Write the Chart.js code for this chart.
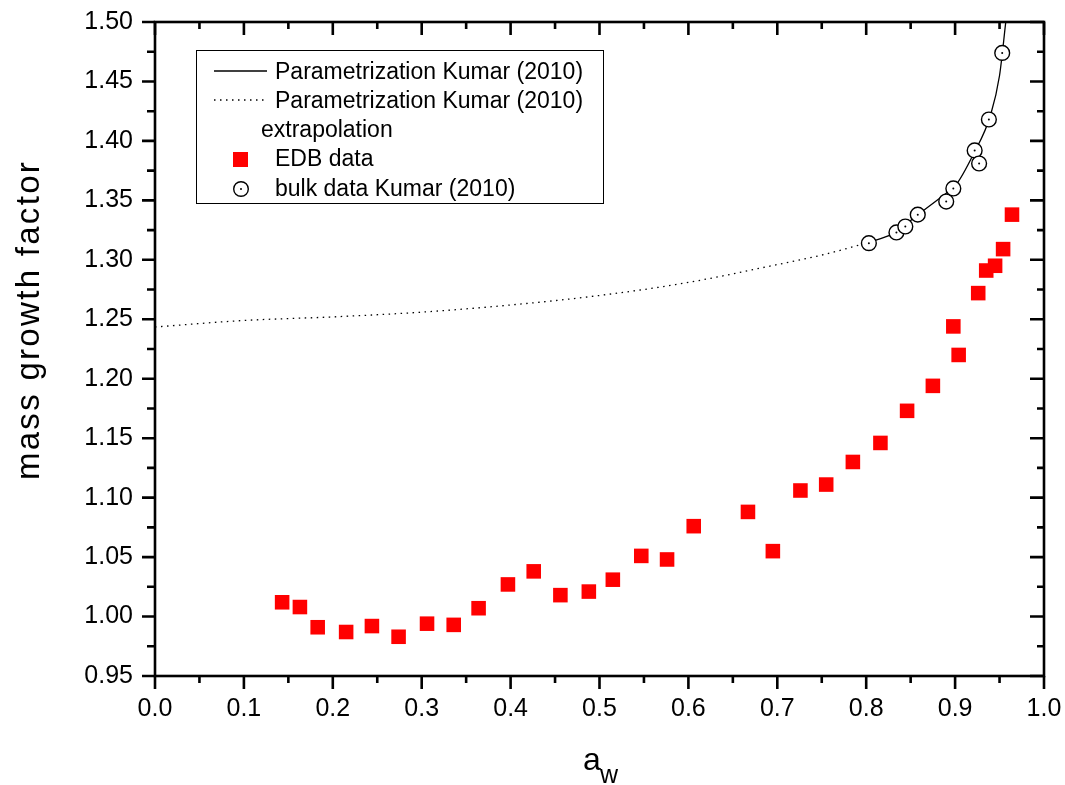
<!DOCTYPE html>
<html>
<head>
<meta charset="utf-8">
<title>mass growth factor</title>
<script src="https://cdn.jsdelivr.net/npm/chart.js@4/dist/chart.umd.min.js"></script>
<style>
    html, body { margin: 0; padding: 0; background: #fff; }
    #wrap { width: 1065px; height: 785px; }
</style>
</head>
<body>
<div id="wrap"><canvas id="growthChart" width="1065" height="785"></canvas></div>
<script>
// EDB measurements
const edbAw = [0.143, 0.163, 0.183, 0.215, 0.244, 0.274, 0.306, 0.336, 0.364, 0.397, 0.426,
               0.456, 0.488, 0.515, 0.547, 0.576, 0.606, 0.667, 0.695, 0.726, 0.755, 0.785,
               0.816, 0.846, 0.875, 0.904, 0.898, 0.926, 0.935, 0.945, 0.954, 0.964];
const edbGf = [1.012, 1.008, 0.991, 0.987, 0.992, 0.983, 0.994, 0.993, 1.007, 1.027, 1.038,
               1.018, 1.021, 1.031, 1.051, 1.048, 1.076, 1.088, 1.055, 1.106, 1.111, 1.130,
               1.146, 1.173, 1.194, 1.220, 1.244, 1.272, 1.291, 1.295, 1.309, 1.338];

// bulk data Kumar (2010)
const bulkAw = [0.803, 0.834, 0.844, 0.858, 0.890, 0.898, 0.922, 0.927, 0.938, 0.953];
const bulkGf = [1.314, 1.323, 1.328, 1.338, 1.349, 1.360, 1.392, 1.381, 1.418, 1.474];

// parametrization (solid) and its extrapolation (dotted)
const paramAw = [0.80, 0.83, 0.86, 0.89, 0.90, 0.92, 0.94, 0.95, 0.957];
const paramGf = [1.314, 1.322, 1.339, 1.356, 1.362, 1.388, 1.422, 1.455, 1.50];
const extrapAw = [0.0, 0.1, 0.2, 0.3, 0.4, 0.5, 0.6, 0.7, 0.75, 0.8];
const extrapGf = [1.2435, 1.249, 1.252, 1.256, 1.262, 1.270, 1.281, 1.296, 1.304, 1.314];

const xTicks = [0.0, 0.1, 0.2, 0.3, 0.4, 0.5, 0.6, 0.7, 0.8, 0.9, 1.0];
const yTicks = [0.95, 1.00, 1.05, 1.10, 1.15, 1.20, 1.25, 1.30, 1.35, 1.40, 1.45, 1.50];

const legendLabels = ['Parametrization Kumar (2010)', 'Parametrization Kumar (2010)', 'extrapolation',
                      'EDB data', 'bulk data Kumar (2010)'];
const yTitle = 'mass growth factor';

const FONT = '"Liberation Sans", Arial, Helvetica, sans-serif';

document.addEventListener('DOMContentLoaded', function() {
    const ctx = document.getElementById('growthChart').getContext('2d');

    const toPoints = (xs, ys) => xs.map((x, i) => ({ x: x, y: ys[i] }));

    const tickPick = list => function(scale) {
        scale.ticks = list.map(v => ({ value: v }));
    };

    // keep chart area exactly where the layout padding puts it
    function noScalePadding(scale) {
        scale.paddingTop = 0;
        scale.paddingBottom = 0;
        scale.paddingLeft = 0;
        scale.paddingRight = 0;
    }

    function dot(c, x, y) {
        c.beginPath();
        c.arc(x, y, 1, 0, Math.PI * 2);
        c.fill();
    }

    // centre dots of the open circles
    const centreDotPlugin = {
        id: 'centreDots',
        afterDatasetsDraw(chart) {
            const meta = chart.getDatasetMeta(0);
            const c = chart.ctx;
            c.save();
            c.fillStyle = '#000';
            meta.data.forEach(pt => dot(c, pt.x, pt.y));
            c.restore();
        }
    };

    // frame, inward/outward ticks, legend and axis titles
    const decorPlugin = {
        id: 'decor',
        afterDraw(chart) {
            const c = chart.ctx;
            const a = chart.chartArea;
            const xs = chart.scales.x;
            const ys = chart.scales.y;
            c.save();
            c.strokeStyle = '#000';
            c.lineWidth = 2.6;
            c.lineCap = 'butt';
            c.strokeRect(a.left, a.top, a.right - a.left, a.bottom - a.top);

            const xMinor = xTicks.slice(1).map((v, i) => (v + xTicks[i]) / 2);
            const yMinor = yTicks.slice(1).map((v, i) => (v + yTicks[i]) / 2);

            c.beginPath();
            xTicks.forEach(v => {
                const px = xs.getPixelForValue(v);
                c.moveTo(px, a.bottom); c.lineTo(px, a.bottom + 13);
                c.moveTo(px, a.top); c.lineTo(px, a.top + 13);
            });
            xMinor.forEach(v => {
                const px = xs.getPixelForValue(v);
                c.moveTo(px, a.bottom); c.lineTo(px, a.bottom + 7);
                c.moveTo(px, a.top); c.lineTo(px, a.top + 7);
            });
            yTicks.forEach(v => {
                const py = ys.getPixelForValue(v);
                c.moveTo(a.left - 13, py); c.lineTo(a.left, py);
                c.moveTo(a.right - 14, py); c.lineTo(a.right, py);
            });
            yMinor.forEach(v => {
                const py = ys.getPixelForValue(v);
                c.moveTo(a.left - 8, py); c.lineTo(a.left, py);
                c.moveTo(a.right - 7, py); c.lineTo(a.right, py);
            });
            c.stroke();

            c.fillStyle = '#000';

            // y axis title
            c.save();
            c.translate(30, 320);
            c.rotate(-Math.PI / 2);
            c.font = '33px ' + FONT;
            c.letterSpacing = '2.3px';
            c.textAlign = 'center';
            c.textBaseline = 'middle';
            c.fillText(yTitle, 0, 0);
            c.restore();

            // x axis title: a with subscript w
            c.textBaseline = 'alphabetic';
            c.textAlign = 'left';
            c.font = '32px ' + FONT;
            c.fillText('a', 583, 770);
            c.font = '25px ' + FONT;
            c.fillText('w', 600, 783);

            // legend
            c.lineWidth = 1;
            c.strokeStyle = '#000';
            c.strokeRect(196.5, 50.5, 407, 153);
            c.font = '23px ' + FONT;

            c.lineWidth = 1.3;
            c.beginPath();
            c.moveTo(214, 71); c.lineTo(267, 71);
            c.stroke();
            c.fillText(legendLabels[0], 275, 79);

            c.setLineDash([1.5, 4.5]);
            c.beginPath();
            c.moveTo(214, 100); c.lineTo(267, 100);
            c.stroke();
            c.setLineDash([]);
            c.fillText(legendLabels[1], 275, 108);
            c.fillText(legendLabels[2], 261, 137);

            c.fillStyle = '#ff0000';
            c.fillRect(233, 152, 15, 15);
            c.fillStyle = '#000';
            c.fillText(legendLabels[3], 275, 166);

            c.beginPath();
            c.arc(241, 189, 7.3, 0, Math.PI * 2);
            c.lineWidth = 1.4;
            c.stroke();
            dot(c, 241, 189);
            c.fillText(legendLabels[4], 275, 196);
            c.restore();
        }
    };

    new Chart(ctx, {
        type: 'scatter',
        data: {
            datasets: [
                {
                    label: legendLabels[4],
                    data: toPoints(bulkAw, bulkGf),
                    pointStyle: 'circle',
                    pointRadius: 7.4,
                    backgroundColor: '#fff',
                    borderColor: '#000',
                    borderWidth: 1.4,
                    order: 0
                },
                {
                    label: legendLabels[3],
                    data: toPoints(edbAw, edbGf),
                    pointStyle: 'rect',
                    pointRadius: 10.3,
                    backgroundColor: '#ff0000',
                    borderWidth: 0,
                    order: 1
                },
                {
                    label: legendLabels[0],
                    data: toPoints(paramAw, paramGf),
                    showLine: true,
                    pointRadius: 0,
                    borderColor: '#000',
                    borderWidth: 1.3,
                    cubicInterpolationMode: 'monotone',
                    order: 2
                },
                {
                    label: legendLabels[1] + ' ' + legendLabels[2],
                    data: toPoints(extrapAw, extrapGf),
                    showLine: true,
                    pointRadius: 0,
                    borderColor: '#000',
                    borderWidth: 1.3,
                    borderDash: [1.5, 4.5],
                    cubicInterpolationMode: 'monotone',
                    order: 3
                }
            ]
        },
        options: {
            responsive: false,
            animation: false,
            layout: { padding: { top: 22, right: 21, bottom: 0, left: 0 } },
            plugins: {
                legend: { display: false },
                tooltip: { enabled: false }
            },
            scales: {
                x: {
                    type: 'linear',
                    min: 0,
                    max: 1,
                    afterBuildTicks: tickPick(xTicks),
                    afterFit: function(scale) {
                        scale.height = 109;
                        noScalePadding(scale);
                    },
                    grid: { display: false, drawTicks: false },
                    border: { display: false },
                    ticks: {
                        padding: 18,
                        color: '#000',
                        font: { family: FONT, size: 25 },
                        maxRotation: 0,
                        callback: v => v.toFixed(1)
                    }
                },
                y: {
                    type: 'linear',
                    min: 0.95,
                    max: 1.5,
                    afterBuildTicks: tickPick(yTicks),
                    afterFit: function(scale) {
                        scale.width = 155;
                        noScalePadding(scale);
                    },
                    grid: { display: false, drawTicks: false },
                    border: { display: false },
                    ticks: {
                        padding: 22,
                        color: '#000',
                        font: { family: FONT, size: 25 },
                        callback: v => v.toFixed(2)
                    }
                }
            }
        },
        plugins: [centreDotPlugin, decorPlugin]
    });
});
</script>
</body>
</html>
